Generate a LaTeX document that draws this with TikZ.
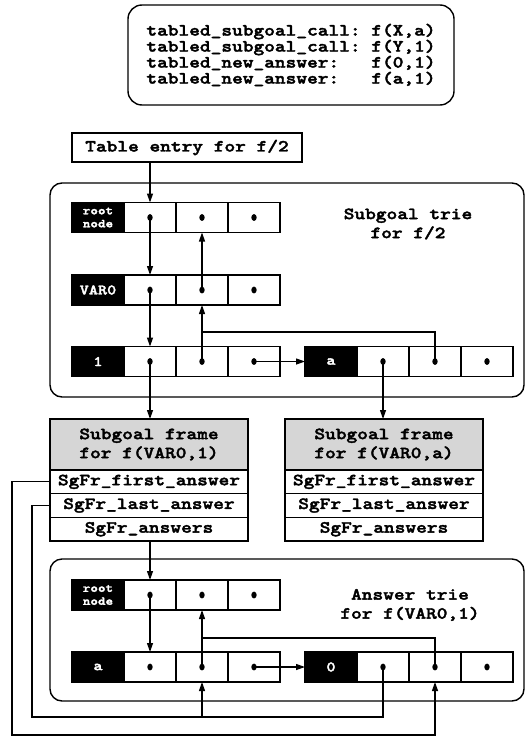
\documentclass[tikz,border=0pt]{standalone}
\usepackage{fontspec}
\newfontfamily\slab{lmmonolt10-bold.otf}[FakeStretch=1.2, FakeBold=2.2]
\usetikzlibrary{arrows.meta,positioning}

\begin{document}
\begin{tikzpicture}[x=1pt, y=-1pt, >={Triangle[length=9pt,width=6pt]},
  font=\slab\fontsize{17}{19}\selectfont,
  box/.style={draw, line width=1.4pt, inner sep=0pt, outer sep=0pt},
  cell/.style={box, minimum width=52pt, minimum height=30pt},
  key/.style={cell, fill=black, text=white, font=\slab\fontsize{14.5}{15}\selectfont},
  rootkey/.style={key, align=center, font=\slab\fontsize{12}{13}\selectfont},
  ptr/.style={cell, path picture={\fill (path picture bounding box.center) ellipse (2.7pt and 3.4pt);}},
  field/.style={box, minimum width=198pt, minimum height=23.7pt},
  header/.style={field, minimum height=51pt, fill=black!16, align=center},
  frame/.style={line width=1.4pt, rounded corners=12pt},
  link/.style={line width=1.2pt}]
\useasboundingbox (0,0) rectangle (529,736);
% the four calls
\node[box, rounded corners=14pt, minimum width=326pt, minimum height=100pt, align=left,
      font=\slab\fontsize{17}{16}\selectfont] (calls) at (291,55)
  {tabled\_subgoal\_call:~f(X,a)\\tabled\_subgoal\_call:~f(Y,1)\\
   tabled\_new\_answer:~~~f(0,1)\\tabled\_new\_answer:~~~f(a,1)};
% table entry
\node[box, minimum width=230pt, minimum height=29pt] (entry) at (187,147.5) {Table entry for f/2};

% subgoal trie
\draw[frame] (50,183) rectangle (524,397);
\node[align=center] (sglabel) at (408,224) {Subgoal trie\\for f/2};
\node[rootkey] (s1) at (98,217.5) {root\\node};
\node[ptr, right=0pt of s1] (s1a) {};
\node[ptr, right=0pt of s1a] (s1b) {};
\node[ptr, right=0pt of s1b] (s1c) {};
\node[key] (s2) at (98,290) {VAR0};
\node[ptr, right=0pt of s2] (s2a) {};
\node[ptr, right=0pt of s2a] (s2b) {};
\node[ptr, right=0pt of s2b] (s2c) {};
\node[key] (s3) at (98,361.5) {1};
\node[ptr, right=0pt of s3] (s3a) {};
\node[ptr, right=0pt of s3a] (s3b) {};
\node[ptr, right=0pt of s3b] (s3c) {};
\node[key] (s4) at (331,361.5) {a};
\node[ptr, right=0pt of s4] (s4a) {};
\node[ptr, right=0pt of s4a] (s4b) {};
\node[ptr, right=0pt of s4b] (s4c) {};
\coordinate (j1) at (202,332);
\draw[link, ->] (entry.south -| s1a) -- (s1a.north);
\draw[link, ->] (s1a.center) -- (s2a.north);
\draw[link, ->] (s2a.center) -- (s3a.north);
\draw[link, ->] (s2b.center) -- (s1b.south);
\draw[link, ->] (s3b.center) -- (s2b.south);
\draw[link] (s4b.center) |- (j1);
\draw[link, ->] (s3c.center) -- (s4.west);

% subgoal frames
\node[header] (hdr1) at (149,444.5) {Subgoal frame\\for f(VAR0,1)};
\node[field, below=0pt of hdr1] (first1) {SgFr\_first\_answer};
\node[field, below=0pt of first1] (last1) {SgFr\_last\_answer};
\node[field, below=0pt of last1] (ans1) {SgFr\_answers};
\node[header] (hdr2) at (384,444.5) {Subgoal frame\\for f(VAR0,a)};
\node[field, below=0pt of hdr2] (first2) {SgFr\_first\_answer};
\node[field, below=0pt of first2] (last2) {SgFr\_last\_answer};
\node[field, below=0pt of last2] (ans2) {SgFr\_answers};
\draw[link, ->] (s3a.center) -- (s3a.center |- hdr1.north);
\draw[link, ->] (s4a.center) -- (s4a.center |- hdr2.north);

% answer trie
\draw[frame] (50,559) rectangle (524,701);
\node[align=center] (anslabel) at (410,605) {Answer trie\\for f(VAR0,1)};
\node[rootkey] (a1) at (98,595) {root\\node};
\node[ptr, right=0pt of a1] (a1a) {};
\node[ptr, right=0pt of a1a] (a1b) {};
\node[ptr, right=0pt of a1b] (a1c) {};
\node[key] (a2) at (98,667) {a};
\node[ptr, right=0pt of a2] (a2a) {};
\node[ptr, right=0pt of a2a] (a2b) {};
\node[ptr, right=0pt of a2b] (a2c) {};
\node[key] (a3) at (331,667) {0};
\node[ptr, right=0pt of a3] (a3a) {};
\node[ptr, right=0pt of a3a] (a3b) {};
\node[ptr, right=0pt of a3b] (a3c) {};
\coordinate (j2) at (202,638);
\draw[link, ->] (ans1.south -| a1a) -- (a1a.north);
\draw[link, ->] (a1a.center) -- (a2a.north);
\draw[link, ->] (a2b.center) -- (a1b.south);
\draw[link] (a3b.center) |- (j2);
\draw[link, ->] (a2c.center) -- (a3.west);

% first / last answer pointers
\coordinate (c1) at (12,735);
\coordinate (c2) at (32,717);
\coordinate (j3) at (a2b |- c2);
\draw[link, ->] (first1.west) -| (c1) -| (a3b.south);
\draw[link] (last1.west) -| (c2) -| (a3a.center);
\draw[link, ->] (j3) -- (a2b.south);
\end{tikzpicture}
\end{document}
